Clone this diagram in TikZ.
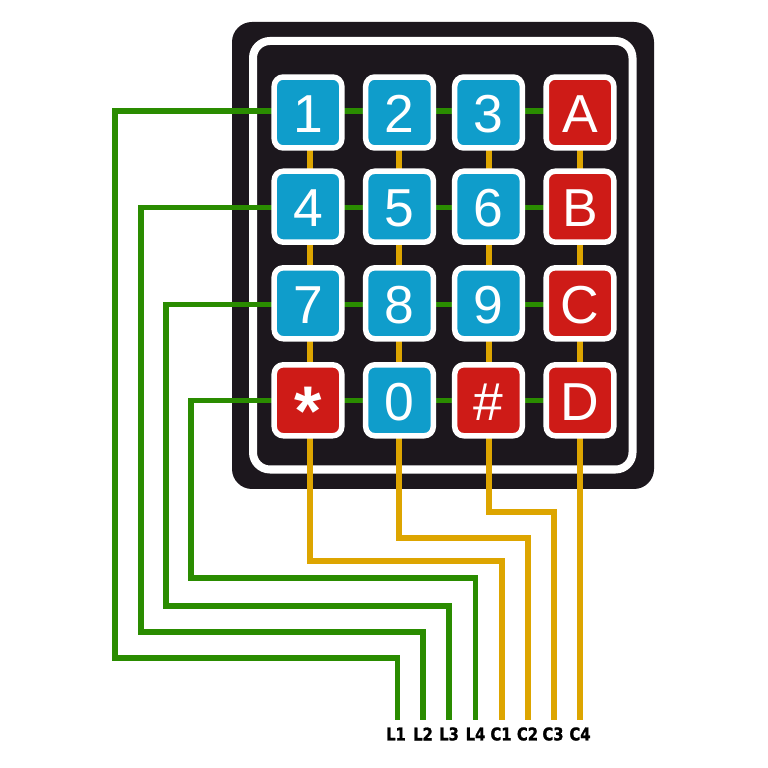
\documentclass[tikz,border=0pt]{standalone}
\usepackage{fontspec}
\setmainfont{Liberation Sans}
\newfontfamily\pinfont{DejaVu Sans}[FakeStretch=0.84,BoldFeatures={FakeBold=1.2}]
\definecolor{panelblack}{HTML}{1C171D}
\definecolor{keyblue}{HTML}{0F9DCB}
\definecolor{keyred}{HTML}{CE1B17}
\definecolor{wiregreen}{HTML}{2A8C00}
\definecolor{wiregold}{HTML}{DDA500}
\pgfdeclarelayer{panel}
\pgfdeclarelayer{wires}
\pgfsetlayers{panel,wires,main}
\begin{document}
\begin{tikzpicture}[line cap=round,line join=round,x=0.01cm,y=-0.01cm,
	bluekey/.style={draw=white,fill=keyblue,line width=0.055cm,rounded corners=0.09cm,minimum width=0.675cm,minimum height=0.709cm,inner sep=0pt,text=white,text height=0.40cm,text depth=0pt,font=\fontsize{15.2}{15.2}\selectfont},
	redkey/.style={bluekey,fill=keyred},
	rowwire/.style={draw=wiregreen,line width=0.052cm},
	colwire/.style={draw=wiregold,line width=0.052cm},
	pinlabel/.style={inner sep=0pt,font=\pinfont\bfseries\fontsize{5}{5}\selectfont}]
		\useasboundingbox (0,0) rectangle (768,768);
		\begin{pgfonlayer}{panel}
		\fill [white] (0,0) rectangle (768,768);
		\fill [panelblack,rounded corners=0.2cm] (232,22) rectangle (654,489);
		\draw [white,line width=0.08cm,rounded corners=0.17cm] (253,41) rectangle (632.5,469.5);
		\end{pgfonlayer}
		\node [bluekey] (k1) at (308,112.5) {1};
		\node [bluekey] (k2) at (399.5,112.5) {2};
		\node [bluekey] (k3) at (488.5,112.5) {3};
		\node [redkey] (kA) at (580,112.5) {A};
		\node [bluekey] (k4) at (308,206.7) {4};
		\node [bluekey] (k5) at (399.5,206.7) {5};
		\node [bluekey] (k6) at (488.5,206.7) {6};
		\node [redkey] (kB) at (580,206.7) {B};
		\node [bluekey] (k7) at (308,303.3) {7};
		\node [bluekey] (k8) at (399.5,303.3) {8};
		\node [bluekey] (k9) at (488.5,303.3) {9};
		\node [redkey] (kC) at (580,303.3) {C};
		\node [redkey] (kS) at (308,400.3) {\smash{\raisebox{-0.15cm}{\fontsize{20}{20}\selectfont\bfseries *}}};
		\node [bluekey] (k0) at (399.5,400.3) {0};
		\node [redkey] (kH) at (488.5,400.3) {\#};
		\node [redkey] (kD) at (580,400.3) {D};
		\node [pinlabel] (L1) at (396,734) {L1};
		\node [pinlabel] (L2) at (423,734) {L2};
		\node [pinlabel] (L3) at (449,734) {L3};
		\node [pinlabel] (L4) at (475.5,734) {L4};
		\node [pinlabel] (C1) at (501,734) {C1};
		\node [pinlabel] (C2) at (527.5,734) {C2};
		\node [pinlabel] (C3) at (553,734) {C3};
		\node [pinlabel] (C4) at (580,734) {C4};
		\coordinate (cornerL1) at (115,111);
		\coordinate (cornerL2) at (141,207.7);
		\coordinate (cornerL3) at (166,304.5);
		\coordinate (cornerL4) at (191,400.5);
		\coordinate (bendL1) at (115,658);
		\coordinate (bendL2) at (141,632);
		\coordinate (bendL3) at (166,606);
		\coordinate (bendL4) at (191,578);
		\coordinate (endL1) at (397.5,720);
		\coordinate (endL2) at (423,720);
		\coordinate (endL3) at (449,720);
		\coordinate (endL4) at (475.5,720);
		\coordinate (bendC1) at (310,561);
		\coordinate (bendC2) at (399,538);
		\coordinate (bendC3) at (489,512);
		\coordinate (endC1) at (502,720);
		\coordinate (endC2) at (528,720);
		\coordinate (endC3) at (554,720);
		\coordinate (endC4) at (580,720);
		\begin{pgfonlayer}{wires}
		\draw [rowwire] (kA |- cornerL1) -- (cornerL1) -- (bendL1) -| (endL1);
		\draw [rowwire] (kB |- cornerL2) -- (cornerL2) -- (bendL2) -| (endL2);
		\draw [rowwire] (kC |- cornerL3) -- (cornerL3) -- (bendL3) -| (endL3);
		\draw [rowwire] (kD |- cornerL4) -- (cornerL4) -- (bendL4) -| (endL4);
		\draw [colwire] (bendC1 |- k1) -- (bendC1) -| (endC1);
		\draw [colwire] (bendC2 |- k2) -- (bendC2) -| (endC2);
		\draw [colwire] (bendC3 |- k3) -- (bendC3) -| (endC3);
		\draw [colwire] (endC4 |- kA) -- (endC4);
		\end{pgfonlayer}
\end{tikzpicture}
\end{document}
